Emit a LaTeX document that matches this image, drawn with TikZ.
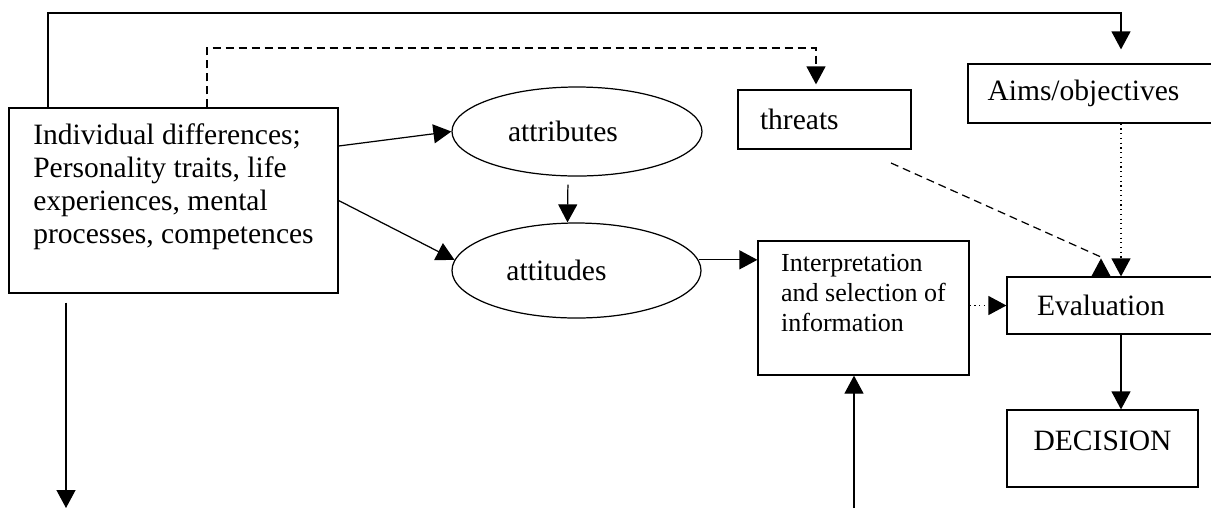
\documentclass[tikz,border=0pt]{standalone}
\usepackage{fontspec}
\setmainfont{Liberation Serif}
\usetikzlibrary{arrows.meta,shapes.geometric}

\begin{document}
\begin{tikzpicture}[x=0.2mm,y=-0.2mm,line width=0.7pt,
            >={Triangle[length=3.6mm,width=3.8mm]},
            box/.style={draw,rectangle,inner xsep=4.4mm,font=\fontsize{16.8}{18.8}\selectfont},
            ell/.style={draw,ellipse,inner sep=0pt,font=\fontsize{16.8}{18.8}\selectfont},
            dashline/.style={dash pattern=on 1.6mm off 1mm}]
            \useasboundingbox (0,0) rectangle (1211,508);
            \node[box,align=left,minimum width=65.8mm,minimum height=37mm] (indiv) at (173.5,200.5) {Individual differences;\\Personality traits, life\\experiences, mental\\processes, competences\\\mbox{}};
            \node[ell,minimum width=50mm,minimum height=17.8mm] (attr) at (577,131.5) {attributes\hspace*{5.6mm}};
            \node[ell,minimum width=49.8mm,minimum height=19mm] (attit) at (576.5,270.5) {attitudes\hspace*{8mm}};
            \node[box,align=left,text width=25.8mm,minimum height=11.8mm] (threats) at (824.5,119.5) {threats};
            \node[box,align=left,inner xsep=3.9mm,text width=41mm,minimum height=11.8mm] (aims) at (1090,93.5) {Aims/objectives};
            \node[box,align=left,inner xsep=4.2mm,minimum width=42.2mm,minimum height=26.8mm,font=\fontsize{14.8}{17}\selectfont] (interp) at (863.5,308) {Interpretation\\and selection of\\information\\\mbox{}};
            \node[box,align=left,inner xsep=6mm,text width=29mm,minimum height=11.4mm] (eval) at (1109.5,305.5) {Evaluation};
            \node[box,minimum width=38.2mm,minimum height=15.4mm,text depth=3mm] (decision) at (1102.5,448.5) {DECISION};
            \coordinate (tl) at (48,13);
            \coordinate (tr) at (1121,13);
            \coordinate (dl) at (207,48);
            \coordinate (dr) at (816,48);
            \coordinate (thr) at (891,163);
            \coordinate (evtip) at (1101,257);
            \coordinate (inb) at (854,508);
            \coordinate (outb) at (66,508);
            \draw[->,shorten >=2.8mm] (indiv.north -| tl) -- (tl) -- (tr) -- (aims.north -| tr);
            \draw[->,dashline,shorten >=1mm] (indiv.north -| dl) -- (dl) -- (dr) -- (threats.north -| dr);
            \draw[->] ([yshift=10.9mm]indiv.east) -- (attr.west);
            \draw[->] (indiv.east) -- (attit.175);
            \draw[->,shorten <=1.6mm] ([xshift=-1.8mm]attr.south) -- ([xshift=-1.8mm]attit.north);
            \draw[->] (attit.5) -- (attit.5 -| interp.west);
            \draw[->,dotted] (eval.west -| interp.east) -- (eval.west);
            \draw[->,dotted] (aims.south -| tr) -- (eval.north -| tr);
            \draw[dashline,-{Triangle[length=3.6mm,width=3.8mm,reversed]}] (thr) -- (evtip) -- (eval.north -| evtip);
            \draw[->] (eval.south -| tr) -- (decision.north -| tr);
            \draw[->] (inb) -- (interp.south -| inb);
            \draw[->,shorten <=1.8mm] (indiv.south -| outb) -- (outb);
\end{tikzpicture}
\end{document}
